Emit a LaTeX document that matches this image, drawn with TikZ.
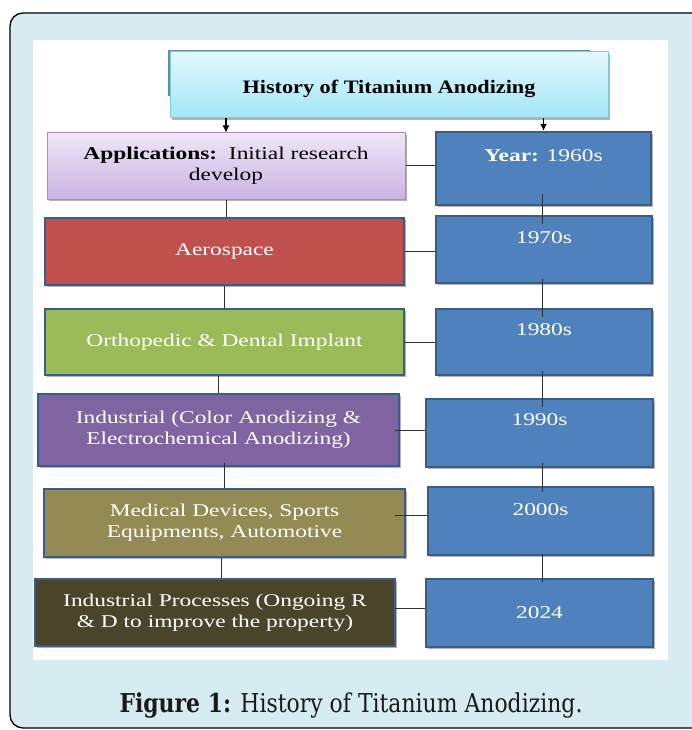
\documentclass[tikz,border=0pt]{standalone}
\usepackage{fontspec}
\setmainfont{Liberation Serif}
\newfontfamily\capfont{DejaVu Serif}
\usetikzlibrary{arrows.meta,shadows}
\definecolor{panel}{HTML}{D7ECF1}
\definecolor{titletop}{HTML}{E2F8FD}
\definecolor{titlebot}{HTML}{A3E6F8}
\definecolor{titleedge}{HTML}{86C9DC}
\definecolor{titleback}{HTML}{5E8FA8}
\definecolor{apptop}{HTML}{EFE7F7}
\definecolor{appbot}{HTML}{CAB3E4}
\definecolor{appedge}{HTML}{A58BC6}
\definecolor{aerofill}{HTML}{C0504D}
\definecolor{orthofill}{HTML}{9BBB59}
\definecolor{indfill}{HTML}{8064A2}
\definecolor{medfill}{HTML}{948A54}
\definecolor{ipfill}{HTML}{4A442A}
\definecolor{yearfill}{HTML}{4F81BD}
\definecolor{boxedge}{HTML}{385D8A}
\definecolor{linkcol}{HTML}{2E2E2E}
\definecolor{captext}{HTML}{1A1A1A}
\newcommand{\wt}[1]{\scalebox{1.3}[1]{#1}}
\newcommand{\twol}[2]{\scalebox{1.3}[1]{\begin{tabular}{@{}c@{}}#1\\#2\end{tabular}}}
\begin{document}
\begin{tikzpicture}[x=1pt,y=1pt,
  shade/.style={drop shadow={shadow xshift=2pt,shadow yshift=-2pt,opacity=0.3,fill=black}},
  colbox/.style={rectangle, draw=boxedge, line width=2.4pt, text=white, inner sep=0pt,
    font=\fontsize{18}{21}\selectfont, shade},
  yearbox/.style={colbox, fill=yearfill},
  yearlbl/.style={anchor=center, text=white, font=\fontsize{18}{21}\selectfont, inner sep=0pt},
  link/.style={draw=linkcol, line width=1pt},
  arr/.style={draw=black, line width=1.1pt, -{Latex[length=7pt,width=7pt]}}]
\useasboundingbox (0,0) rectangle (691,-730);
\fill[white] (0,0) rectangle (691,-730);
\draw[black, fill=panel, line width=1.3pt, rounded corners=13pt] (10,-13) rectangle (725,-728);
\fill[white] (33,-40) rectangle (668,-660);

% title
\draw[titleback, line width=1.5pt] (169,-96) -- (169,-51) -- (590,-51);
\node[rectangle, draw=titleedge, line width=1pt, top color=titletop, bottom color=titlebot,
  minimum width=438pt, minimum height=66pt, inner sep=0pt, shade, text height=22pt, text depth=4pt,
  font=\fontsize{19}{22}\selectfont\bfseries] (title) at (389,-85)
  {\scalebox{1.17}[1]{History of Titanium Anodizing}};

% left column
\node[rectangle, draw=appedge, line width=1pt, top color=apptop, bottom color=appbot,
  minimum width=358pt, minimum height=66pt, inner sep=0pt, shade,
  font=\fontsize{18}{21}\selectfont] (app) at (226,-166)
  {\twol{\textbf{Applications:}\ \ Initial research}{develop}};
\node[colbox, fill=aerofill, minimum width=359pt, minimum height=67pt] (aero) at (224.5,-251.5) {\wt{Aerospace}};
\node[colbox, fill=orthofill, minimum width=359pt, minimum height=66pt] (ortho) at (224.5,-342) {\wt{Orthopedic \& Dental Implant}};
\node[colbox, fill=indfill, minimum width=361pt, minimum height=72pt] (ind) at (218.5,-430)
  {\twol{Industrial (Color Anodizing \&}{Electrochemical Anodizing)}};
\node[colbox, fill=medfill, minimum width=361pt, minimum height=68pt] (med) at (224.5,-523)
  {\twol{Medical Devices, Sports}{Equipments, Automotive}};
\node[colbox, fill=ipfill, minimum width=360pt, minimum height=67pt] (ip) at (215,-612.5)
  {\twol{Industrial Processes (Ongoing R}{\& D to improve the property)}};

% right column
\node[yearbox, minimum width=215pt, minimum height=73pt,
  label={[yearlbl, yshift=-25pt]north:\wt{\textbf{Year:} 1960s}}] (yr1) at (543.5,-168.5) {};
\node[yearbox, minimum width=216pt, minimum height=67pt,
  label={[yearlbl, yshift=-23pt]north:\wt{1970s}}] (yr2) at (544,-249.5) {};
\node[yearbox, minimum width=216pt, minimum height=66pt,
  label={[yearlbl, yshift=-22pt]north:\wt{1980s}}] (yr3) at (544,-342) {};
\node[yearbox, minimum width=227pt, minimum height=68pt,
  label={[yearlbl, yshift=-22pt]north:\wt{1990s}}] (yr4) at (539.5,-433) {};
\node[yearbox, minimum width=225pt, minimum height=68pt,
  label={[yearlbl, yshift=-24pt]north:\wt{2000s}}] (yr5) at (540.5,-521) {};
\node[yearbox, minimum width=227pt, minimum height=68pt] (yr6) at (539.5,-613) {\wt{2024}};

% arrows from title
\draw[arr] (title.south -| app.north) -- (app.north);
\draw[arr] (title.south -| yr1.north) -- (yr1.north);

% left vertical links
\draw[link] (app.south) -- (app.south |- aero.north);
\draw[link] (aero.south) -- (aero.south |- ortho.north);
\draw[link] (ind.north |- ortho.south) -- (ind.north);
\draw[link] ([yshift=4pt]ind.south -| med.north) -- (med.north);
\draw[link] ([xshift=-3pt]med.south) -- ([xshift=-3pt]med.south |- ip.north);

% right vertical links
\coordinate (rc) at (542,0);
\draw[link] ([yshift=12pt]yr1.south -| rc) -- ([yshift=-9pt]yr2.north -| rc);
\draw[link] ([yshift=5pt]yr2.south -| rc) -- ([yshift=-9pt]yr3.north -| rc);
\draw[link] ([yshift=5pt]yr3.south -| rc) -- ([yshift=-9pt]yr4.north -| rc);
\draw[link] ([yshift=5pt]yr4.south -| rc) -- ([yshift=-6pt]yr5.north -| rc);
\draw[link] ([yshift=2pt]yr5.south -| rc) -- ([yshift=-4pt]yr6.north -| rc);

% horizontal links
\draw[link] (app.east) -- (app.east -| yr1.west);
\draw[link] (aero.east) -- (aero.east -| yr2.west);
\draw[link] (ortho.east) -- (ortho.east -| yr3.west);
\draw[link] ([xshift=-5pt]ind.east) -- (ind.east -| yr4.west);
\draw[link] ([xshift=-11pt,yshift=8pt]med.east) -- ([yshift=8pt]med.east -| yr5.west);
\draw[link] ([xshift=-1pt,yshift=4pt]ip.east) -- ([yshift=4pt]ip.east -| yr6.west);

% caption
\node[text=captext, inner sep=0pt, font=\capfont\fontsize{26}{30}\selectfont] (cap) at (351,-706)
  {\resizebox{463pt}{\height}{\textbf{Figure 1:} History of Titanium Anodizing.}};
\end{tikzpicture}
\end{document}
